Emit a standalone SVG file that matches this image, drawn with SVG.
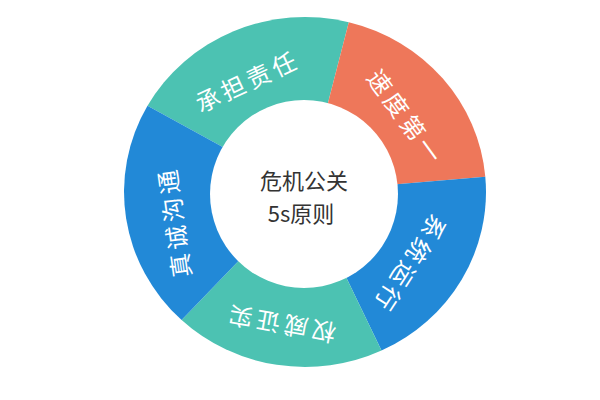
<svg xmlns="http://www.w3.org/2000/svg" width="600" height="400" viewBox="0 0 600 400">
  <style>
    .teal { fill: #4cc2b2; }
    .orange { fill: #ee775a; }
    .blue { fill: #2289d7; }
    .lbl { fill: #ffffff; font-family: "Noto Sans CJK SC", "Noto Sans", sans-serif; font-size: 24px; letter-spacing: 4px; text-anchor: middle; dominant-baseline: central; }
    .ctr { fill: #333333; font-family: "Noto Sans CJK SC", "Noto Sans", sans-serif; font-size: 22px; text-anchor: middle; dominant-baseline: central; }
  </style>
  <rect width="600" height="400" fill="#ffffff"/>
  <g id="seg-chengdan">
    <path class="teal" d="M305,192 L147.5,105.8 A181,175 0 0 1 348.8,22.2 Z"/>
    <text class="lbl" transform="translate(247,80) rotate(-25)">承担责任</text>
  </g>
  <g id="seg-sudu">
    <path class="orange" d="M305,192 L348.8,22.2 A181,175 0 0 1 485.3,176.7 Z"/>
    <text class="lbl" transform="translate(407,117) rotate(54)">速度第一</text>
  </g>
  <g id="seg-xitong">
    <path class="blue" d="M305,192 L485.3,176.7 A181,175 0 0 1 381.5,350.6 Z"/>
    <text class="lbl" transform="translate(411,265) rotate(123)">系统运行</text>
  </g>
  <g id="seg-quanwei">
    <path class="teal" d="M305,192 L381.5,350.6 A181,175 0 0 1 181.6,320 Z"/>
    <text class="lbl" transform="translate(280,325) rotate(190)">权威证实</text>
  </g>
  <g id="seg-zhencheng">
    <path class="blue" d="M305,192 L181.6,320 A181,175 0 0 1 147.5,105.8 Z"/>
    <text class="lbl" transform="translate(173,222) rotate(-98)">真诚沟通</text>
  </g>
  <g id="center">
    <circle cx="304" cy="194" r="94" fill="#ffffff"/>
    <text class="ctr" x="304" y="179">危机公关</text>
    <text class="ctr" x="301" y="212">5s原则</text>
  </g>
  <g id="connectors"></g>
</svg>
